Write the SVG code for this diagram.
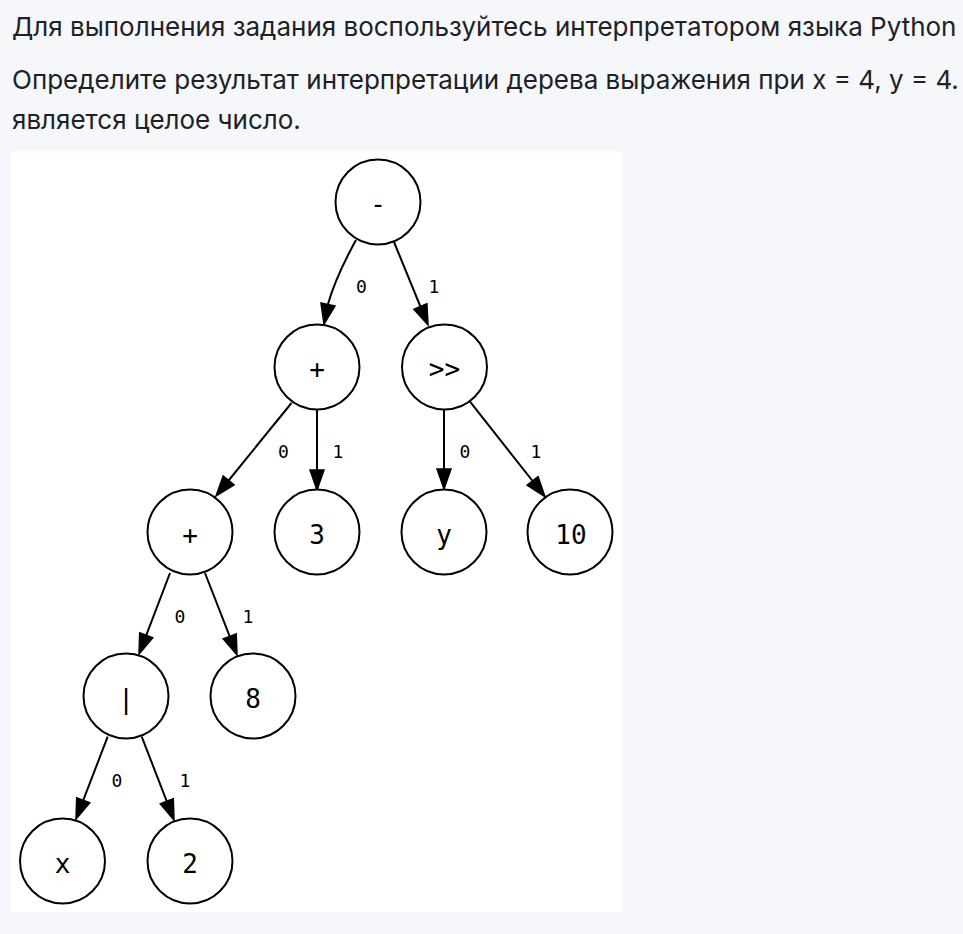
<svg xmlns="http://www.w3.org/2000/svg" width="963" height="934" viewBox="0 0 963 934">
<style>
.hdr{font-family:Inter,"Noto Sans",sans-serif;font-size:26px;fill:#202124}
.node circle{fill:#fff;stroke:#000;stroke-width:2}
.node text{font-family:"DejaVu Sans Mono",monospace;font-size:26px;fill:#000;text-anchor:middle}
.edges path,.edges line{stroke:#000;stroke-width:2;fill:none}
.edges polygon{fill:#000;stroke:#000;stroke-width:1.5}
.lbl{font-family:"DejaVu Sans Mono",monospace;font-size:18px;fill:#000;text-anchor:middle}
</style>
<rect width="963" height="934" fill="#f6f7fb"/>
<text class="hdr" x="12" y="36">Для выполнения задания воспользуйтесь интерпретатором языка Python</text>
<text class="hdr" x="12" y="89">Определите результат интерпретации дерева выражения при x = 4, y = 4.</text>
<text class="hdr" x="12" y="129">является целое число.</text>
<rect x="11" y="151" width="611" height="761" fill="#fff"/>
<g class="edges">
<path d="M356,240 C345,260 334,283 328,304"/>
<polygon points="321,303 335,306 324,324"/>
<line x1="394" y1="242" x2="420.4" y2="306.5"/>
<polygon points="426.9,303.8 413.9,309.2 428,325"/>
<line x1="291.5" y1="403" x2="228.6" y2="480.5"/>
<polygon points="234,484.9 223.2,476.1 216,496"/>
<line x1="317" y1="409" x2="317" y2="470"/>
<polygon points="310,470 324,470 317,490"/>
<line x1="444" y1="409" x2="444" y2="469"/>
<polygon points="437,469 451,469 444,489"/>
<line x1="470" y1="401.7" x2="532.6" y2="481"/>
<polygon points="538.1,476.7 527.1,485.3 545,496.7"/>
<line x1="170" y1="573" x2="146.2" y2="635.3"/>
<polygon points="152.7,637.8 139.7,632.8 139,654"/>
<line x1="205" y1="573" x2="229.7" y2="636.4"/>
<polygon points="236.2,633.9 223.2,638.9 237,655"/>
<line x1="107.7" y1="736.7" x2="83.2" y2="800.3"/>
<polygon points="89.7,802.8 76.7,797.8 76,819"/>
<line x1="141.7" y1="736.7" x2="166.8" y2="801.3"/>
<polygon points="173.3,798.8 160.3,803.8 174,820"/>
<text class="lbl" x="361.3" y="292.5">0</text>
<text class="lbl" x="434" y="292.5">1</text>
<text class="lbl" x="283.5" y="458">0</text>
<text class="lbl" x="338" y="458">1</text>
<text class="lbl" x="465" y="457.5">0</text>
<text class="lbl" x="536" y="457.5">1</text>
<text class="lbl" x="180" y="622.5">0</text>
<text class="lbl" x="248" y="622.5">1</text>
<text class="lbl" x="117" y="786.5">0</text>
<text class="lbl" x="185" y="786.5">1</text>
</g>
<g id="n-minus" class="node"><circle cx="378" cy="202" r="42.5"/><text x="378" y="213">-</text></g>
<g id="n-plus1" class="node"><circle cx="317" cy="367" r="42.5"/><text x="317" y="378">+</text></g>
<g id="n-shr" class="node"><circle cx="444.5" cy="367" r="42.5"/><text x="444.5" y="378">&gt;&gt;</text></g>
<g id="n-plus2" class="node"><circle cx="190" cy="532" r="42.5"/><text x="190" y="544">+</text></g>
<g id="n-3" class="node"><circle cx="317" cy="532" r="42.5"/><text x="317" y="544">3</text></g>
<g id="n-y" class="node"><circle cx="444" cy="532" r="42.5"/><text x="444" y="544">y</text></g>
<g id="n-10" class="node"><circle cx="570" cy="532" r="42.5"/><text x="571" y="544">10</text></g>
<g id="n-or" class="node"><circle cx="126" cy="696" r="42.5"/><text x="126" y="708">|</text></g>
<g id="n-8" class="node"><circle cx="253" cy="696" r="42.5"/><text x="253" y="708">8</text></g>
<g id="n-x" class="node"><circle cx="62.5" cy="861" r="42.5"/><text x="62.5" y="873">x</text></g>
<g id="n-2" class="node"><circle cx="190" cy="861" r="42.5"/><text x="190" y="873">2</text></g>
</svg>
